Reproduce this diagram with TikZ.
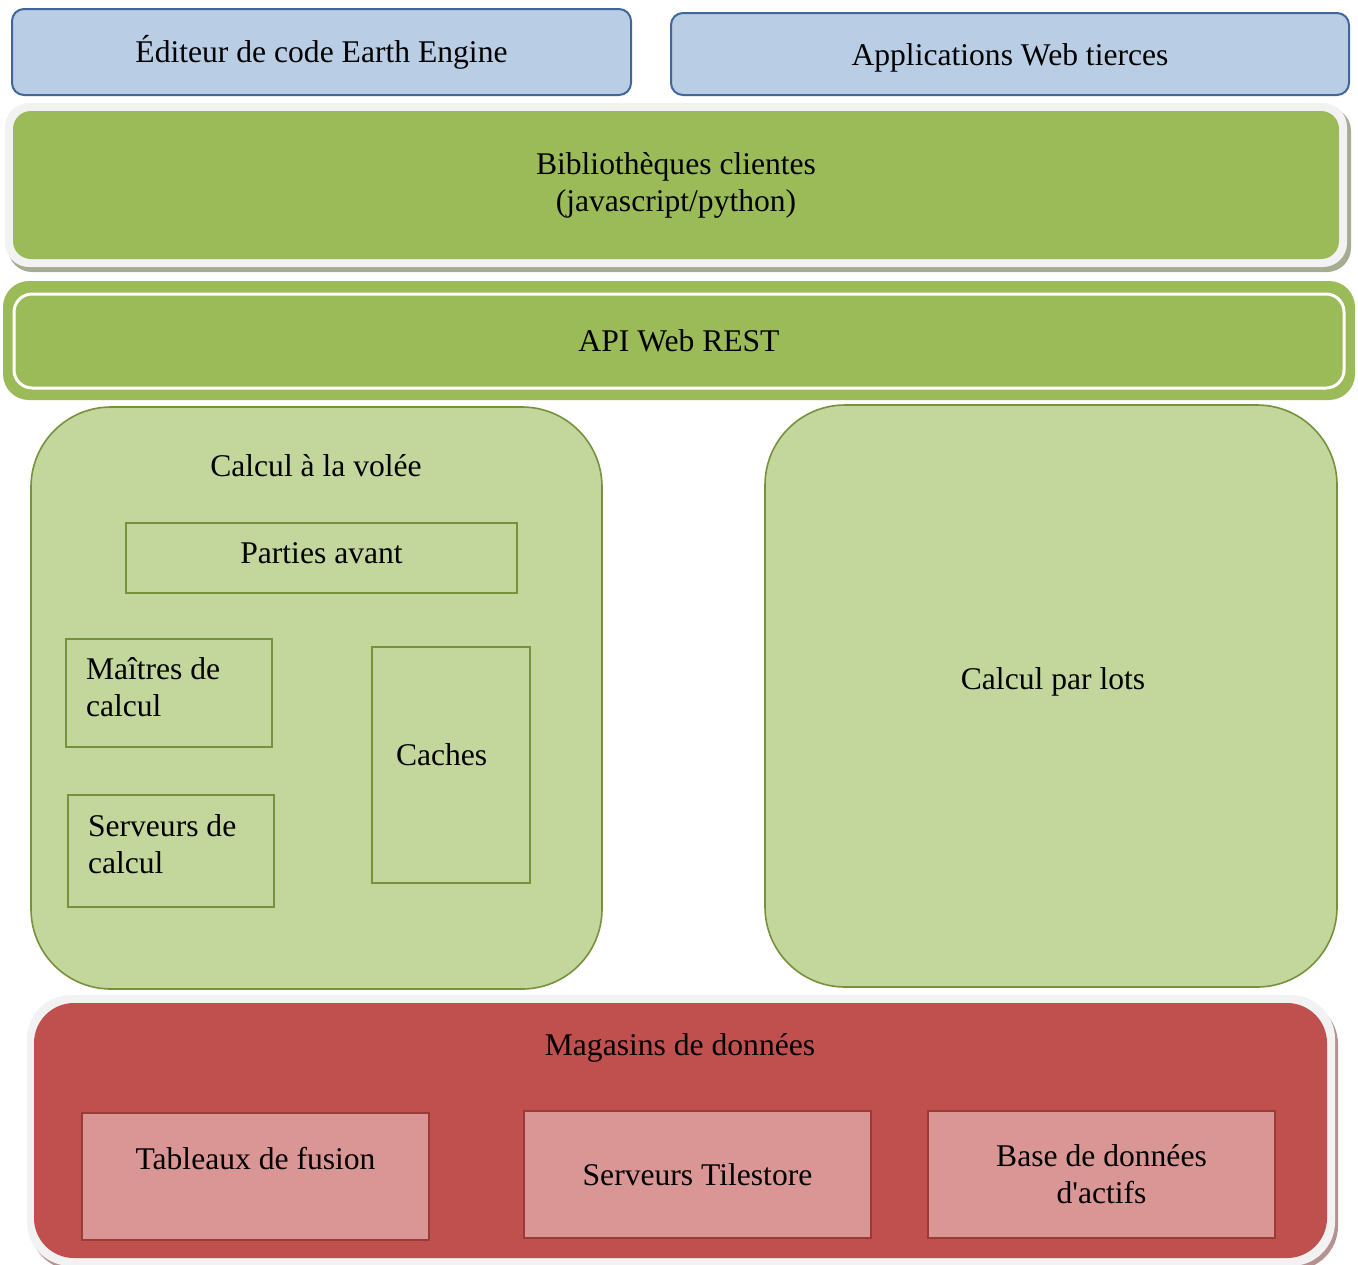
\documentclass[tikz,border=0pt]{standalone}
\usepackage{fontspec}
\setmainfont{Liberation Serif}

\definecolor{bleu}{HTML}{B9CDE5}
\definecolor{bleubord}{HTML}{41679A}
\definecolor{vert}{HTML}{9BBB59}
\definecolor{vertclair}{HTML}{C3D69B}
\definecolor{vertbord}{HTML}{76923C}
\definecolor{rouge}{HTML}{C0504D}
\definecolor{rose}{HTML}{D99694}
\definecolor{rougebord}{HTML}{9B3B38}
\definecolor{cadre}{HTML}{F2F2F2}
\definecolor{ombrev}{HTML}{A4AC93}
\definecolor{ombrer}{HTML}{B59290}

\begin{document}
\begin{tikzpicture}[x=0.5pt, y=-0.5pt,
	font=\fontsize{15.8}{18.5}\selectfont,
	client/.style={draw=bleubord, line width=1pt, fill=bleu, rounded corners=6pt},
	couche/.style={fill=vert, rounded corners=9pt, align=center},
	moteur/.style={draw=vertbord, line width=0.8pt, fill=vertclair, rounded corners=40pt},
	brique/.style={draw=vertbord, line width=0.8pt, fill=vertclair},
	depot/.style={draw=rougebord, line width=1pt, fill=rose, align=center}]
	\useasboundingbox (0,0) rectangle (1358,1264);

	% clients
	\node[client, minimum width=309.5pt, minimum height=43pt] (editeur) at (321.5,52) {Éditeur de code Earth Engine};
	\node[client, minimum width=339pt, minimum height=41pt, text height=11pt, text depth=0pt] (applis) at (1010,54) {Applications Web tierces};

	% bibliotheques
	\fill[ombrev, rounded corners=12pt] (8,107) rectangle (1351,272);
	\fill[cadre, rounded corners=12pt] (5,103) rectangle (1347,267);
	\node[couche, minimum width=663pt, minimum height=74pt] (biblio) at (676,185) {Bibliothèques clientes\\(javascript/python)};

	% API
	\fill[vert, rounded corners=13pt] (3,281) rectangle (1355,400);
	\node[couche, draw=white, line width=1.5pt, minimum width=665pt, minimum height=47pt] (api) at (679,341) {API Web REST};

	% calcul a la volee
	\node[moteur, minimum width=285.5pt, minimum height=291pt] (volee) at (316.5,698) {};
	\node (voleetitre) at (316,466) {Calcul à la volée};
	\node[brique, minimum width=195.5pt, minimum height=35pt, text height=10.8pt, text depth=5pt] (parties) at (321.5,558) {Parties avant};
	\node[brique, minimum width=103pt, minimum height=54pt, inner xsep=10pt, text width=83pt, align=flush left, text height=11pt, text depth=25pt] (maitres) at (169,693) {Maîtres de calcul};
	\node[brique, minimum width=103pt, minimum height=56pt, inner xsep=10pt, text width=83pt, align=flush left, text height=11pt, text depth=26pt] (serveurs) at (171,851) {Serveurs de calcul};
	\node[brique, minimum width=79pt, minimum height=118pt, inner xsep=12pt, text width=55pt, align=flush left, text height=10pt, text depth=10pt] (caches) at (451,765) {Caches};

	% calcul par lots
	\node[moteur, minimum width=286pt, minimum height=291pt] (lots) at (1051,696) {};
	\node (lotstitre) at (1053,682) {Calcul par lots};

	% magasins de donnees
	\fill[ombrer, rounded corners=22pt] (30,1000) rectangle (1338,1270);
	\fill[cadre, rounded corners=22pt] (27,995) rectangle (1335,1266);
	\node[fill=rouge, rounded corners=20pt, minimum width=646.5pt, minimum height=127.5pt] (magasins) at (680.5,1130.5) {};
	\node (magasinstitre) at (680,1048) {Magasins de données};
	\node[depot, minimum width=173.5pt, minimum height=63.5pt] (tableaux) at (255.5,1176.5) {Tableaux de fusion\\~};
	\node[depot, minimum width=173.5pt, minimum height=63.5pt] (tilestore) at (697.5,1174.5) {Serveurs Tilestore};
	\node[depot, minimum width=173.5pt, minimum height=63.5pt] (actifs) at (1101.5,1174.5) {Base de données\\d\textquotesingle actifs};
\end{tikzpicture}
\end{document}
